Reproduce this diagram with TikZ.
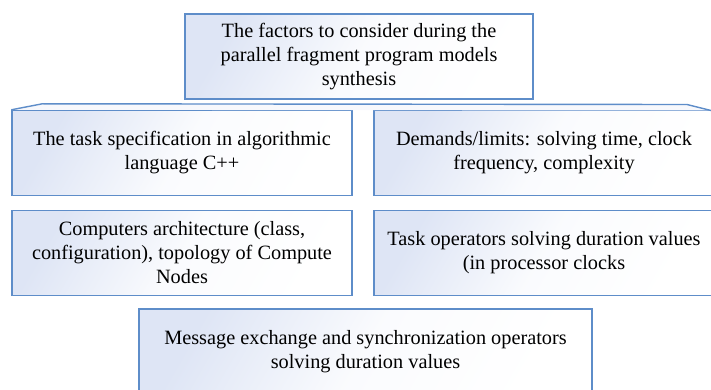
\documentclass[tikz,border=0pt]{standalone}
\usepackage{fontspec}
\setmainfont{Liberation Serif}
\newfontfamily\factorfont{Liberation Serif}
\definecolor{boxline}{RGB}{94,141,201}
\definecolor{boxshade}{RGB}{222,229,245}
\begin{document}
	\begin{tikzpicture}
		[x=1pt, y=-1pt,
		factor/.style={draw=boxline, line width=1.4pt, inner sep=0pt,
			top color=boxshade, bottom color=white, middle color=white!85!boxshade,
			shading angle=60,
			align=center, font=\factorfont\fontsize{20.3}{24}\selectfont},
		half/.style={minimum width=340pt, minimum height=85pt},
		lid/.style={draw=boxline, line width=1.4pt, fill=boxshade!25}]
		\useasboundingbox (0,0) rectangle (711,390);
		\clip (0,0) rectangle (711,390);
		\node[factor, minimum width=348pt, minimum height=85pt] (factors) at (359,56.5)
			{The factors to consider during the\\parallel fragment program models\\synthesis};
		\node[factor, half] (task) at (182,153)
			{The task specification in algorithmic\\language C++};
		\node[factor, half] (demands) at (544,153)
			{Demands/limits: solving time, clock\\frequency, complexity};
		\node[factor, half] (arch) at (182,253)
			{Computers architecture (class,\\configuration), topology of Compute\\Nodes};
		\node[factor, half] (opers) at (544,253)
			{Task operators solving duration values\\(in processor clocks};
		\node[factor, minimum width=453pt, minimum height=85pt] (msgs) at (365.5,351.5)
			{Message exchange and synchronization operators\\solving duration values};
		% top face over the first row
		\path[lid] (task.north west) -- ++(31,-6) -- (687,104.5) -- (711,110.5);
	\end{tikzpicture}
\end{document}
